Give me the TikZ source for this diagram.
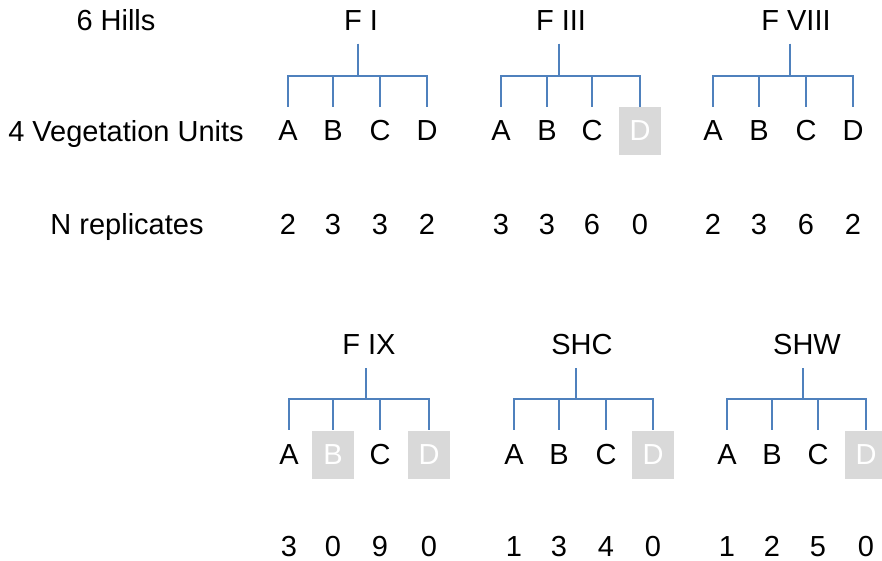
\documentclass[tikz,border=0pt]{standalone}
\usepackage{fontspec}
\setmainfont{Liberation Sans}
\definecolor{BranchClr}{RGB}{79,129,189}
\definecolor{MissClr}{RGB}{217,217,217}

\tikzset{
  lbl/.style={inner sep=0pt,text height=20pt,text depth=0pt,font=\fontsize{29}{34}\selectfont},
  unit/.style={lbl,minimum width=42pt,minimum height=48pt},
  miss/.style={unit,fill=MissClr,text=white},
  branch/.style={line width=1.6pt,color=BranchClr}
}

\begin{document}
\begin{tikzpicture}[x=1pt,y=-1pt]
\useasboundingbox (0,0) rectangle (882,561);

% row captions
\node[lbl] (hills) at (116,20.5) {6 Hills};
\node[lbl] (units) at (126,132) {4 Vegetation Units};
\node[lbl] (reps) at (127,224) {N replicates};

% F I
\node[lbl] (FI) at (361,20.5) {F I};
\coordinate (FIt) at (358,44);
\coordinate (FIj) at (358,76);
\foreach \x/\l/\s/\n in {288/A/unit/2,333/B/unit/3,380/C/unit/3,427/D/unit/2}{
  \node[\s] (FI\l) at (\x,131) {\l};
  \node[lbl] (FI\l n) at (\x,224) {\n};
  \draw[branch] (FIt) -- (FIj) -| (FI\l.north);
}

% F III
\node[lbl] (FIII) at (561,20.5) {F III};
\coordinate (FIIIt) at (559,44);
\coordinate (FIIIj) at (559,76);
\foreach \x/\l/\s/\n in {501/A/unit/3,547/B/unit/3,592/C/unit/6,640/D/miss/0}{
  \node[\s] (FIII\l) at (\x,131) {\l};
  \node[lbl] (FIII\l n) at (\x,224) {\n};
  \draw[branch] (FIIIt) -- (FIIIj) -| (FIII\l.north);
}

% F VIII
\node[lbl] (FVIII) at (796,20.5) {F VIII};
\coordinate (FVIIIt) at (790,44);
\coordinate (FVIIIj) at (790,76);
\foreach \x/\l/\s/\n in {713/A/unit/2,759/B/unit/3,806/C/unit/6,853/D/unit/2}{
  \node[\s] (FVIII\l) at (\x,131) {\l};
  \node[lbl] (FVIII\l n) at (\x,224) {\n};
  \draw[branch] (FVIIIt) -- (FVIIIj) -| (FVIII\l.north);
}

% F IX
\node[lbl] (FIX) at (369,344.5) {F IX};
\coordinate (FIXt) at (366,368);
\coordinate (FIXj) at (366,399);
\foreach \x/\l/\s/\n in {289/A/unit/3,333/B/miss/0,380/C/unit/9,429/D/miss/0}{
  \node[\s] (FIX\l) at (\x,454.5) {\l};
  \node[lbl] (FIX\l n) at (\x,546.5) {\n};
  \draw[branch] (FIXt) -- (FIXj) -| (FIX\l.north);
}

% SHC
\node[lbl] (SHC) at (582,344.5) {SHC};
\coordinate (SHCt) at (576,368);
\coordinate (SHCj) at (576,399);
\foreach \x/\l/\s/\n in {514/A/unit/1,559/B/unit/3,606/C/unit/4,653/D/miss/0}{
  \node[\s] (SHC\l) at (\x,454.5) {\l};
  \node[lbl] (SHC\l n) at (\x,546.5) {\n};
  \draw[branch] (SHCt) -- (SHCj) -| (SHC\l.north);
}

% SHW
\node[lbl] (SHW) at (807,344.5) {SHW};
\coordinate (SHWt) at (803,368);
\coordinate (SHWj) at (803,399);
\foreach \x/\l/\s/\n in {727/A/unit/1,772/B/unit/2,818/C/unit/5,866/D/miss/0}{
  \node[\s] (SHW\l) at (\x,454.5) {\l};
  \node[lbl] (SHW\l n) at (\x,546.5) {\n};
  \draw[branch] (SHWt) -- (SHWj) -| (SHW\l.north);
}

\end{tikzpicture}
\end{document}
